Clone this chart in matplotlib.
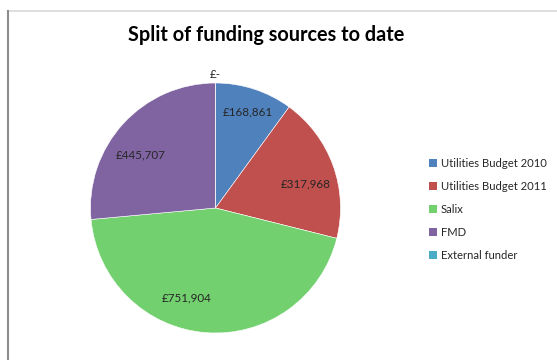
import numpy as np
import matplotlib
matplotlib.use("Agg")
import matplotlib.pyplot as plt
from matplotlib.lines import Line2D
from matplotlib.patches import Patch

categories = ["Utilities Budget 2010", "Utilities Budget 2011", "Salix", "FMD", "External funder"]
values = [168861, 317968, 751904, 445707, 0]
value_labels = ["£168,861", "£317,968", "£751,904", "£445,707", "£-"]
colors = ["#4F81BD", "#C0504D", "#72D06F", "#8064A2", "#4BACC6"]
title = "Split of funding sources to date"

W, H = 557, 360
fig = plt.figure(figsize=(W / 100, H / 100), dpi=100)
fig.patch.set_facecolor("white")
font = "Lato"

# frame of the embedded chart (top and left edges)
fig.add_artist(Line2D([8 / W, 1], [1 - 10.5 / H, 1 - 10.5 / H], color="#D9D9D9", lw=1.2))
fig.add_artist(Line2D([7.5 / W, 7.5 / W], [0, 1 - 10.5 / H], color="#8C8C8C", lw=1.5))

cx, cy, R = 215.5, 208, 125
ax = fig.add_axes([(cx - R) / W, (H - cy - R) / H, 2 * R / W, 2 * R / H])
wedges, _ = ax.pie(values, colors=colors, startangle=90, counterclock=False,
                   radius=1, wedgeprops=dict(linewidth=0.4, edgecolor="white"))
ax.set_xlim(-1, 1)
ax.set_ylim(-1, 1)
ax.axis("off")

# best-fit style label placement: (radius fraction, clockwise angle shift in degrees)
label_fit = [(0.81, 0.5), (0.75, 5.0), (0.76, 13.5), (0.73, -7.0), (1.07, 0.0)]

total = float(sum(values))
cum = 0.0
for v, lab, (r, shift) in zip(values, value_labels, label_fit):
    mid = 90 - 360 * (cum + v / 2) / total - shift
    cum += v
    a = np.deg2rad(mid)
    ax.text(r * np.cos(a), r * np.sin(a), lab, ha="center", va="center",
            fontsize=8.4, family=font, color="#262626")

fig.text(266 / W, 1 - 35 / H, title, ha="center", va="center",
         fontsize=14.3, fontweight="bold", family=font, color="black")

handles = [Patch(facecolor=c, edgecolor="none") for c in colors]
leg = fig.legend(handles, categories, loc="upper left",
                 bbox_to_anchor=(423 / W, 1 - 152 / H), frameon=False,
                 prop=dict(family=font, size=8.1), handlelength=0.75, handleheight=0.75,
                 handletextpad=0.35, labelspacing=1.08, borderpad=0)
for t in leg.get_texts():
    t.set_color("#262626")

fig.savefig("out.png", dpi=100, facecolor="white")
